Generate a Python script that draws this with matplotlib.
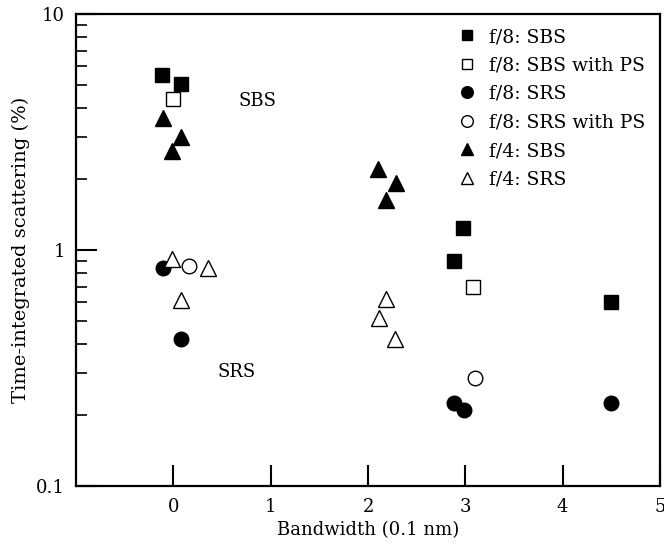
import matplotlib
matplotlib.use("Agg")
import matplotlib.pyplot as plt
from matplotlib.ticker import FixedLocator, LogLocator, NullFormatter

plt.rcParams['font.family'] = ['DejaVu Serif']

# Data
sbs8_x = [-0.12, 0.08, 2.98, 2.88, 4.5]
sbs8_y = [5.5, 5.05, 1.24, 0.90, 0.60]
sbs8ps_x = [0.0, 3.08]
sbs8ps_y = [4.36, 0.70]
srs8_x = [-0.11, 0.08, 2.88, 2.99, 4.5]
srs8_y = [0.84, 0.418, 0.225, 0.21, 0.225]
srs8ps_x = [0.16, 3.1]
srs8ps_y = [0.858, 0.286]
sbs4_x = [-0.11, 0.075, -0.01, 2.1, 2.29, 2.18]
sbs4_y = [3.61, 3.02, 2.63, 2.2, 1.93, 1.63]
srs4_x = [-0.01, 0.36, 0.075, 2.18, 2.11, 2.28]
srs4_y = [0.913, 0.837, 0.614, 0.62, 0.517, 0.42]

labels = ['f/8: SBS', 'f/8: SBS with PS', 'f/8: SRS', 'f/8: SRS with PS', 'f/4: SBS', 'f/4: SRS']
x_ticks = [0, 1, 2, 3, 4, 5]
y_ticks = [0.1, 1, 10]
y_ticklabels = ['0.1', '1', '10']

fig = plt.figure(figsize=(6.64, 5.44), dpi=100)
ax = fig.add_axes([76/664, 58/544, 584/664, 472/544])

ax.plot(sbs8_x, sbs8_y, 's', color='black', ms=9.5, mec='black', label=labels[0])
ax.plot(sbs8ps_x, sbs8ps_y, 's', mfc='white', mec='black', mew=1.0, ms=9.5, label=labels[1])
ax.plot(srs8_x, srs8_y, 'o', color='black', ms=10.5, label=labels[2])
ax.plot(srs8ps_x, srs8ps_y, 'o', mfc='white', mec='black', mew=1.0, ms=10.5, label=labels[3])
ax.plot(sbs4_x, sbs4_y, '^', color='black', ms=11, label=labels[4])
ax.plot(srs4_x, srs4_y, '^', mfc='white', mec='black', mew=1.0, ms=11, label=labels[5])

ax.set_yscale('log')
ax.set_xlim(-1, 5)
ax.set_ylim(0.1, 10)

ax.xaxis.set_major_locator(FixedLocator(x_ticks))
ax.yaxis.set_major_locator(FixedLocator(y_ticks))
ax.set_yticklabels(y_ticklabels)
ax.yaxis.set_minor_locator(LogLocator(base=10, subs=range(2, 10)))
ax.yaxis.set_minor_formatter(NullFormatter())

ax.tick_params(axis='both', which='major', direction='in', length=15, width=1.5, labelsize=13)
ax.tick_params(axis='x', which='major', pad=9)
ax.tick_params(axis='y', which='major', pad=8)
ax.tick_params(axis='y', which='minor', direction='in', length=8, width=1.2)
ax.tick_params(axis='x', which='minor', bottom=False)

for s in ax.spines.values():
    s.set_linewidth(1.6)

ax.set_xlabel('Bandwidth (0.1 nm)', fontsize=13, labelpad=3)
ax.set_ylabel('Time-integrated scattering (%)', fontsize=14, labelpad=4)

ax.text(0.67, 4.3, 'SBS', fontsize=13, va='center', ha='left')
ax.text(0.45, 0.304, 'SRS', fontsize=13, va='center', ha='left')

leg = ax.legend(loc='upper right', bbox_to_anchor=(645/664, 516/544),
                bbox_transform=fig.transFigure,
                frameon=False, fontsize=13.5, markerscale=0.8,
                handlelength=0.8, handletextpad=0.75, labelspacing=0.56,
                borderaxespad=0.0, borderpad=0.0, numpoints=1)

fig.savefig('out.png', dpi=100)
